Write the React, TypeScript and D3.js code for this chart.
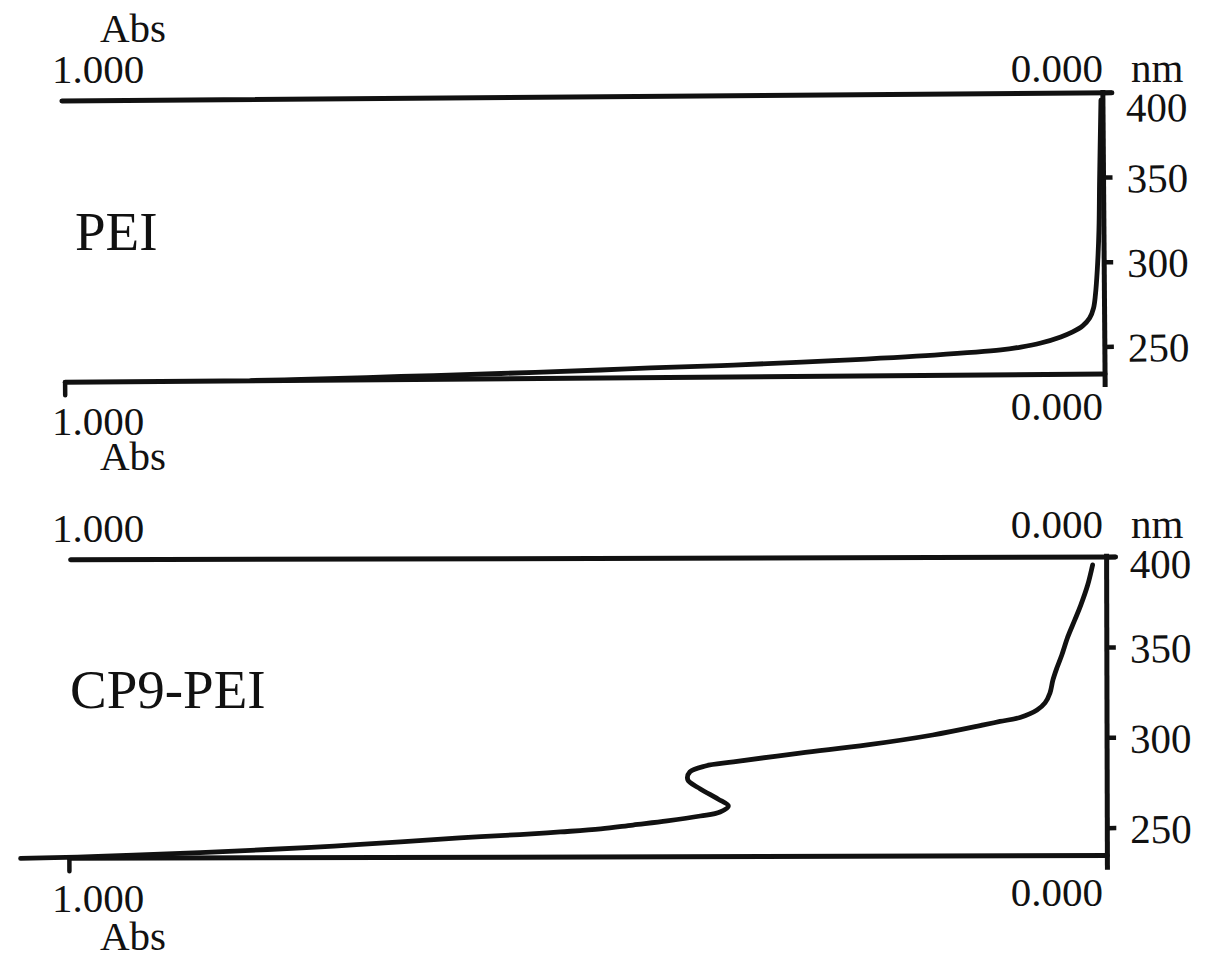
import React from 'react';
import * as d3 from 'd3';

// ---- data ----
const nmTicks = [400, 350, 300, 250];
const absEnds = [1, 0];

const peiAbs = [0.0019, 0.0038, 0.0048, 0.0067, 0.0087, 0.0106, 0.0144, 0.0212, 0.0308, 0.0423, 0.0615, 0.0808, 0.100, 0.164, 0.261, 0.357, 0.437, 0.485, 0.581, 0.677, 0.773, 0.821];
const peiNm = [395.8, 348.6, 319.1, 295.5, 280.7, 273.0, 267.1, 262.5, 259.0, 256.1, 252.6, 250.3, 248.7, 246.0, 243.2, 241.0, 239.7, 238.7, 237.1, 235.8, 234.5, 234.1];

const cp9Abs = [0.0135, 0.0183, 0.0250, 0.0308, 0.0376, 0.0434, 0.0482, 0.0520, 0.0549, 0.0597, 0.0674, 0.0838, 0.1031, 0.119, 0.168, 0.231, 0.296, 0.360, 0.387, 0.402, 0.404, 0.392, 0.375, 0.365, 0.373, 0.392, 0.424, 0.457, 0.488, 0.527, 0.566, 0.624, 0.681, 0.745, 0.809, 0.874, 0.938, 0.992, 1.047];
const cp9Nm = [395.7, 384.6, 373.5, 365.3, 355.9, 345.9, 338.7, 332.1, 324.9, 319.4, 315.5, 311.4, 309.2, 307.3, 301.8, 296.4, 292.0, 287.2, 285.0, 281.7, 277.3, 272.3, 266.7, 262.8, 259.5, 257.3, 254.6, 252.4, 250.3, 248.7, 247.3, 245.5, 243.4, 241.2, 239.4, 237.8, 236.5, 235.5, 234.8];

const FONT = "'Liberation Serif', 'Times New Roman', Times, serif";
const INK = '#111';
const fmt = d3.format('.3f');

type PanelProps = {
  name: string;
  abs: number[];
  nm: number[];
  xRange: [number, number];
  yRange: [number, number];
  bottomNm: number;
  axisTop: number;
  axisBottom: number;
  angle: number;
  cx: number;
  cy: number;
  labelDy: number;
  topLabelExtra: number;
  leftTickX: number;
  nameX: number;
  nameY: number;
  topAbsY: number;
  topZeroY: number;
  bottomOneY: number;
  bottomZeroY: number;
  bottomAbsY: number;
  topAbsTitleY?: number;
  lineStart: number;
};

function Panel(p: PanelProps) {
  const x = d3.scaleLinear().domain([1, 0]).range(p.xRange);
  const y = d3.scaleLinear().domain([400, 250]).range(p.yRange);
  const pts: [number, number][] = p.abs.map((a, i) => [a, p.nm[i]]);
  const line = d3
    .line<[number, number]>()
    .x((d) => x(d[0]))
    .y((d) => y(d[1]))
    .curve(d3.curveCatmullRom.alpha(0.5));
  const x0 = x(0);
  const x1 = x(1);
  const yTop = y(400);
  const yBot = y(p.bottomNm);
  return (
    <g>
      <g transform={`rotate(${p.angle} ${p.cx} ${p.cy})`}>
        {/* top axis line */}
        <line x1={p.lineStart} y1={yTop} x2={x0 + 9} y2={yTop} stroke={INK} strokeWidth={5} strokeLinecap="round" />
        {/* bottom axis line */}
        <line x1={x1} y1={yBot} x2={x0} y2={yBot} stroke={INK} strokeWidth={5} strokeLinecap="round" />
        {/* left tick at 1.000 */}
        <line x1={p.leftTickX} y1={yBot} x2={p.leftTickX} y2={yBot + 13} stroke={INK} strokeWidth={4.5} strokeLinecap="round" />
        {/* right wavelength axis */}
        <line x1={x0} y1={p.axisTop} x2={x0} y2={p.axisBottom} stroke={INK} strokeWidth={5} />
        {nmTicks.map((t) => (
          <g key={t}>
            <line x1={x0} y1={y(t)} x2={x0 + 9} y2={y(t)} stroke={INK} strokeWidth={4.5} />
            <text
              x={x0 + 23}
              y={y(t) + p.labelDy + (t === 400 ? p.topLabelExtra : 0)}
              fontFamily={FONT}
              fontSize={41}
              fill={INK}
            >
              {t}
            </text>
          </g>
        ))}
        {/* spectrum */}
        <path d={line(pts) || ''} fill="none" stroke={INK} strokeWidth={4.8} strokeLinecap="round" strokeLinejoin="round" />
      </g>
      {/* labels (screen positions) */}
      <text x={p.nameX} y={p.nameY} fontFamily={FONT} fontSize={55} fill={INK}>{p.name}</text>
      <text x={52} y={p.topAbsY} fontFamily={FONT} fontSize={41} fill={INK}>{fmt(absEnds[0])}</text>
      <text x={1103} y={p.topZeroY} textAnchor="end" fontFamily={FONT} fontSize={41} fill={INK}>{fmt(absEnds[1])}</text>
      <text x={1131} y={p.topZeroY} fontFamily={FONT} fontSize={41} fill={INK}>nm</text>
      <text x={52} y={p.bottomOneY} fontFamily={FONT} fontSize={41} fill={INK}>{fmt(absEnds[0])}</text>
      <text x={100} y={p.bottomAbsY} fontFamily={FONT} fontSize={41} fill={INK}>Abs</text>
      <text x={1103} y={p.bottomZeroY} textAnchor="end" fontFamily={FONT} fontSize={41} fill={INK}>{fmt(absEnds[1])}</text>
      {p.topAbsTitleY !== undefined && (
        <text x={100} y={p.topAbsTitleY} fontFamily={FONT} fontSize={41} fill={INK}>Abs</text>
      )}
    </g>
  );
}

export default function App() {
  return (
    <svg
      width={1205}
      height={964}
      viewBox="0 0 1205 964"
      style={{ position: 'absolute', left: 0, top: 0, background: '#fff' }}
    >
      <rect width={1205} height={964} fill="#fff" />
      <Panel
        name="PEI"
        abs={peiAbs}
        nm={peiNm}
        xRange={[64, 1104]}
        yRange={[97, 351]}
        bottomNm={234}
        axisTop={94}
        axisBottom={391}
        angle={-0.45}
        cx={585}
        cy={240}
        labelDy={15}
        topLabelExtra={14}
        leftTickX={64}
        nameX={75}
        nameY={250}
        topAbsY={83}
        topZeroY={82}
        bottomOneY={435}
        bottomZeroY={420}
        bottomAbsY={470}
        topAbsTitleY={42}
        lineStart={63}
      />
      <Panel
        name="CP9-PEI"
        abs={cp9Abs}
        nm={cp9Nm}
        xRange={[69, 1107]}
        yRange={[558.5, 829.5]}
        bottomNm={234.8}
        axisTop={555}
        axisBottom={871}
        angle={-0.15}
        cx={585}
        cy={710}
        labelDy={15}
        topLabelExtra={6}
        leftTickX={69}
        nameX={70}
        nameY={708}
        topAbsY={542}
        topZeroY={538}
        bottomOneY={912}
        bottomZeroY={906}
        bottomAbsY={950}
        lineStart={71}
      />
    </svg>
  );
}
